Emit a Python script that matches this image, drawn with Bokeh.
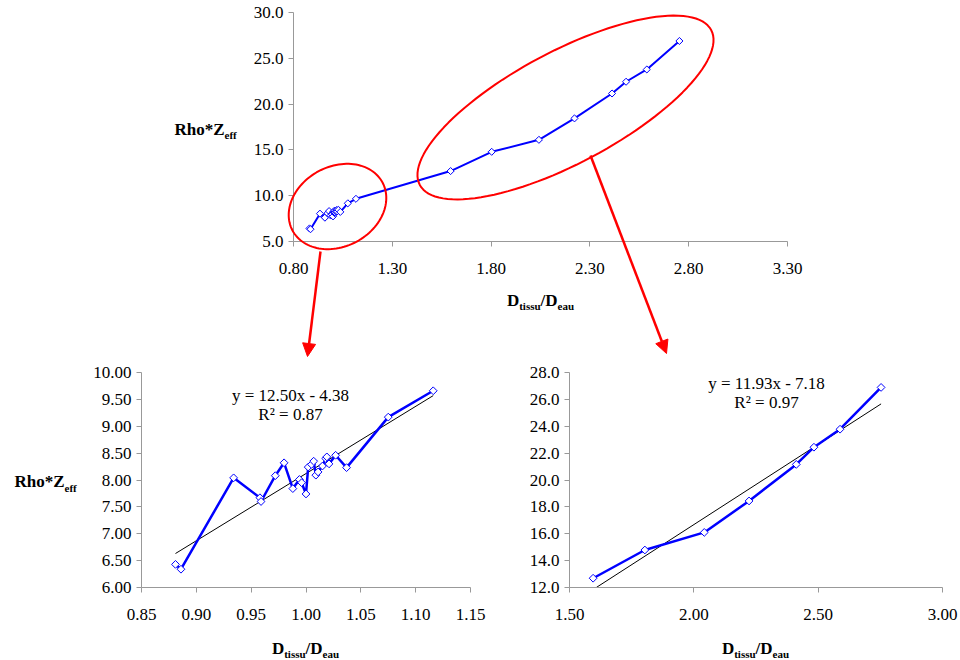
import numpy as np
from bokeh.plotting import figure
from bokeh.layouts import column, row
from bokeh.models import (FixedTicker, NumeralTickFormatter, Label, Arrow,
                          NormalHead, PolyAnnotation, LinearAxis)
from bokeh.embed import file_html
from bokeh.resources import INLINE

# ---------------- data ----------------
low_x = [0.881, 0.886, 0.934, 0.958, 0.959, 0.972, 0.980, 0.988, 0.994, 0.996,
         1.000, 1.002, 1.005, 1.007, 1.009, 1.011, 1.015, 1.018, 1.019, 1.021,
         1.027, 1.037, 1.075, 1.116]
low_y = [6.43, 6.34, 8.04, 7.67, 7.60, 8.08, 8.32, 7.84, 8.01, 7.95,
         7.74, 8.24, 8.29, 8.35, 8.09, 8.15, 8.26, 8.40, 8.43, 8.30,
         8.46, 8.23, 9.17, 9.66]
high_x = [1.595, 1.803, 2.042, 2.222, 2.412, 2.483, 2.588, 2.753]
high_y = [12.69, 14.79, 16.10, 18.44, 21.16, 22.44, 23.78, 26.89]

low_slope, low_intercept, low_r2 = 12.50, -4.38, 0.87
high_slope, high_intercept, high_r2 = 11.93, -7.18, 0.97

top_xticks = [0.80, 1.30, 1.80, 2.30, 2.80, 3.30]
top_yticks = [5.0, 10.0, 15.0, 20.0, 25.0, 30.0]
bl_xticks = [0.85, 0.90, 0.95, 1.00, 1.05, 1.10, 1.15]
bl_yticks = [6.0, 6.5, 7.0, 7.5, 8.0, 8.5, 9.0, 9.5, 10.0]
br_xticks = [1.50, 2.00, 2.50, 3.00]
br_yticks = [12.0, 14.0, 16.0, 18.0, 20.0, 22.0, 24.0, 26.0, 28.0]

SERIF = "Liberation Serif"
BLUE = "#0000FF"
RED = "#FF0000"
AXIS = "#999999"

# bold Times-like advance widths (em) for the axis titles
WB = {"D": .722, "t": .333, "i": .278, "s": .389, "u": .556, "/": .278,
      "e": .444, "a": .5, "R": .722, "h": .556, "o": .5, "*": .5, "Z": .667,
      "f": .333}


def text_w(s, size):
    return sum(WB.get(c, .5) for c in s) * size


class Chart:
    """A figure whose frame fills its canvas; the axes sit at fixed data
    locations so that titles, ellipses and arrows around them stay visible."""

    def __init__(self, canvas, box_px, box_data, xticks, yticks, xfmt, yfmt):
        cx0, cy0, cx1, cy1 = canvas          # page px: left, top, right, bottom
        bx0, by0, bx1, by1 = box_px          # axis box page px
        dx0, dx1, dy0, dy1 = box_data        # x left/right, y bottom/top
        self.kx = (dx1 - dx0) / (bx1 - bx0)
        self.ky = (dy1 - dy0) / (by1 - by0)
        self.bx0, self.by1, self.dx0, self.dy0 = bx0, by1, dx0, dy0
        xr = (dx0 - (bx0 - cx0) * self.kx, dx1 + (cx1 - bx1) * self.kx)
        yr = (dy0 - (cy1 - by1) * self.ky, dy1 + (by0 - cy0) * self.ky)
        p = figure(width=cx1 - cx0, height=cy1 - cy0, x_range=xr, y_range=yr,
                   output_backend="svg", toolbar_location=None,
                   x_axis_location=None, y_axis_location=None,
                   min_border=0, min_border_left=0, min_border_right=0,
                   min_border_top=0, min_border_bottom=0)
        p.outline_line_color = None
        p.grid.visible = False
        xa = LinearAxis(fixed_location=dy0, bounds=(dx0, dx1),
                        ticker=FixedTicker(ticks=xticks),
                        formatter=NumeralTickFormatter(format=xfmt))
        ya = LinearAxis(fixed_location=dx0, bounds=(dy0, dy1),
                        ticker=FixedTicker(ticks=yticks),
                        formatter=NumeralTickFormatter(format=yfmt))
        for ax in (xa, ya):
            ax.axis_line_color = AXIS
            ax.major_tick_line_color = AXIS
            ax.minor_tick_line_color = None
            ax.major_tick_in = 0
            ax.major_tick_out = 5
            ax.major_label_text_font = SERIF
            ax.major_label_text_font_size = "17px"
            ax.major_label_text_color = "black"
        xa.major_label_standoff = 16
        ya.major_label_standoff = 5
        p.add_layout(xa, "below")
        p.add_layout(ya, "left")
        self.p = p

    def m(self, X, Y):
        x = self.dx0 + (np.asarray(X, dtype=float) - self.bx0) * self.kx
        y = self.dy0 + (self.by1 - np.asarray(Y, dtype=float)) * self.ky
        return x, y

    def sub_label(self, X, Yc, parts, center=False):
        """Yc: visual middle of the capital letters (page px)."""
        big, small = 17.0, 11.0
        total = sum(text_w(t, small if s else big) for t, s in parts)
        if center:
            X = X - total / 2
        for t, s in parts:
            size = small if s else big
            x, y = self.m(X, Yc + (6 if s else 0))
            self.p.add_layout(Label(x=float(x), y=float(y), text=t,
                                    text_font=SERIF, text_font_size=f"{size}px",
                                    text_font_style="bold",
                                    text_baseline="middle",
                                    text_align="left", text_color="black"))
            X += text_w(t, size)

    def plain_label(self, X, Yc, text):
        x, y = self.m(X, Yc)
        self.p.add_layout(Label(x=float(x), y=float(y), text=text,
                                text_font=SERIF, text_font_size="17px",
                                text_baseline="middle", text_align="center",
                                text_color="black"))


def fit_text(slope, intercept):
    sign = "-" if intercept < 0 else "+"
    return f"y = {slope:.2f}x {sign} {abs(intercept):.2f}"


def ellipse_px(cx, cy, a, b, theta_deg, n=120):
    t = np.linspace(0, 2 * np.pi, n + 1)
    th = np.radians(theta_deg)
    X = cx + a * np.cos(t) * np.cos(th) - b * np.sin(t) * np.sin(th)
    Y = cy - (a * np.cos(t) * np.sin(th) + b * np.sin(t) * np.cos(th))
    return X, Y


X_TITLE = [("D", False), ("tissu", True), ("/D", False), ("eau", True)]
Y_TITLE = [("Rho*Z", False), ("eff", True)]

# ---------------- top chart ----------------
top = Chart((0, 0, 960, 360), (293, 12, 787, 241), (0.80, 3.30, 5.0, 30.0),
            top_xticks, top_yticks, "0.00", "0.0")
all_x = low_x + high_x
all_y = low_y + high_y
top.p.line(all_x, all_y, line_color=BLUE, line_width=2)
top.p.scatter(all_x, all_y, marker="square", angle=np.pi / 4, size=5,
              line_color=BLUE, fill_color="white", line_width=1)
top.sub_label(540, 299.5, X_TITLE, center=True)
top.sub_label(174, 128.5, Y_TITLE)

for (cx, cy, a, b, th) in [(337, 206, 51, 40, 28), (565, 107, 165, 56, 28)]:
    ex, ey = top.m(*ellipse_px(cx, cy, a, b, th))
    top.p.add_layout(PolyAnnotation(xs=[float(v) for v in ex],
                                    ys=[float(v) for v in ey],
                                    fill_alpha=0, line_color=RED, line_alpha=1.0,
                                    line_width=2))

for (x0, y0, x1, y1) in [(320, 251, 307, 356), (590, 155, 666, 353)]:
    ax0, ay0 = top.m(x0, y0)
    ax1, ay1 = top.m(x1, y1)
    top.p.add_layout(Arrow(end=NormalHead(size=13, fill_color=RED, line_color=RED),
                           x_start=float(ax0), y_start=float(ay0),
                           x_end=float(ax1), y_end=float(ay1),
                           line_color=RED, line_width=2.5))

# ---------------- bottom-left chart ----------------
bl = Chart((0, 360, 500, 660), (141, 372, 470, 587), (0.85, 1.15, 6.0, 10.0),
           bl_xticks, bl_yticks, "0.00", "0.00")
lx = np.array([min(low_x), max(low_x)])
bl.p.line(lx, low_slope * lx + low_intercept, line_color="black", line_width=1)
bl.p.line(low_x, low_y, line_color=BLUE, line_width=2.5)
bl.p.scatter(low_x, low_y, marker="square", angle=np.pi / 4, size=5.5,
             line_color=BLUE, fill_color="white", line_width=1)
bl.plain_label(290, 395, fit_text(low_slope, low_intercept))
bl.plain_label(290, 414, f"R² = {low_r2:.2f}")
bl.sub_label(305, 647.5, X_TITLE, center=True)
bl.sub_label(14, 481, Y_TITLE)

# ---------------- bottom-right chart ----------------
br = Chart((500, 360, 960, 660), (569, 372, 942, 587), (1.50, 3.00, 12.0, 28.0),
           br_xticks, br_yticks, "0.00", "0.0")
y_floor = min(br_yticks)
hx = np.array([max(min(high_x), (y_floor - high_intercept) / high_slope), max(high_x)])
br.p.line(hx, high_slope * hx + high_intercept, line_color="black", line_width=1)
br.p.line(high_x, high_y, line_color=BLUE, line_width=2.5)
br.p.scatter(high_x, high_y, marker="square", angle=np.pi / 4, size=5.5,
             line_color=BLUE, fill_color="white", line_width=1)
br.plain_label(766, 383, fit_text(high_slope, high_intercept))
br.plain_label(766, 402, f"R² = {high_r2:.2f}")
br.sub_label(755, 647.5, X_TITLE, center=True)

layout = column(top.p, row(bl.p, br.p, spacing=0), spacing=0)
open("out.html", "w").write(file_html(layout, INLINE))
